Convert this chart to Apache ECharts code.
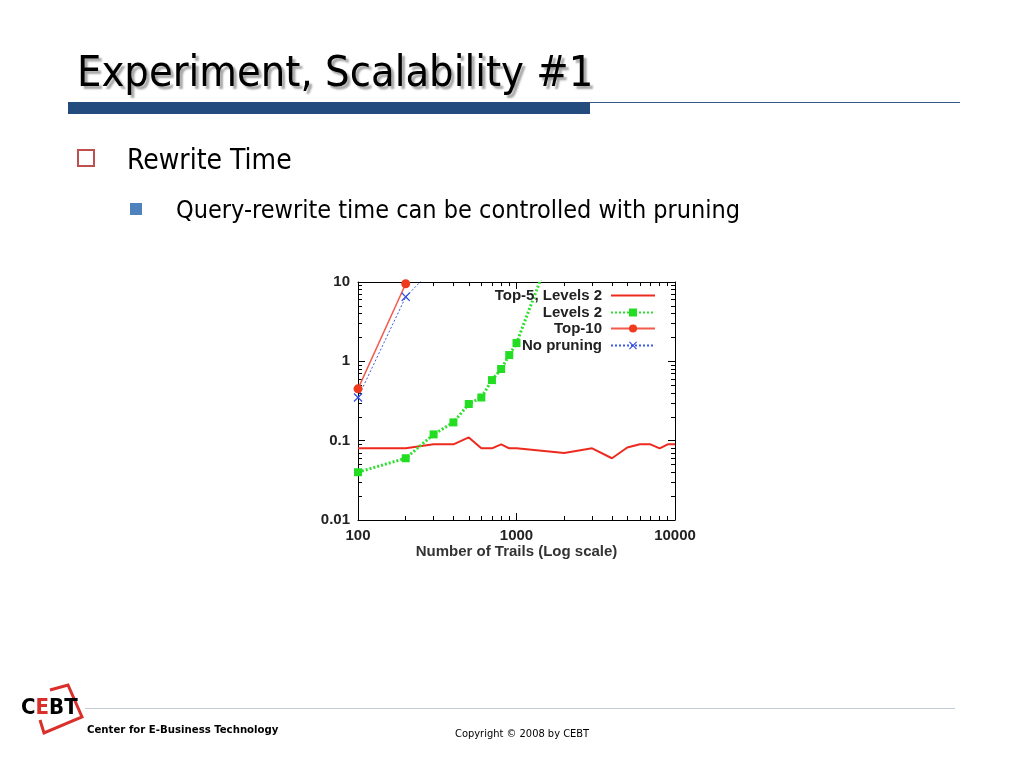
<!DOCTYPE html>
<html>
<head>
<meta charset="utf-8">
<script src="https://cdn.jsdelivr.net/npm/echarts@6/dist/echarts.min.js"></script>
<style>
html,body{margin:0;padding:0;background:#fff;}
#c{width:1024px;height:768px;}
</style>
</head>
<body>
<div id="c"></div>
<script>
// ---- data ----
const seriesNames = ['Top-5, Levels 2', 'Levels 2', 'Top-10', 'No pruning'];
const xTop5 = [100,200,300,400,500,600,700,800,900,1000,2000,3000,4000,5000,6000,7000,8000,9000,10000];
const yTop5 = [0.08,0.08,0.09,0.09,0.11,0.08,0.08,0.09,0.08,0.08,0.07,0.08,0.06,0.082,0.09,0.09,0.08,0.09,0.09];
const xLevels2 = [100,200,300,400,500,600,700,800,900,1000,2000];
const yLevels2 = [0.04,0.06,0.12,0.17,0.29,0.35,0.58,0.8,1.2,1.7,65];
const xTop10 = [100,200];
const yTop10 = [0.45,9.5];
const xNoPrune = [100,200,300];
const yNoPrune = [0.35,6.5,15];
const xMinorTicks = [200,300,400,500,600,700,800,900,2000,3000,4000,5000,6000,7000,8000,9000];
const yMinorTicks = [0.02,0.03,0.04,0.05,0.06,0.07,0.08,0.09,0.2,0.3,0.4,0.5,0.6,0.7,0.8,0.9,2,3,4,5,6,7,8,9];
const xAxisTitle = 'Number of Trails (Log scale)';

const pairs = (xs, ys) => xs.map((x, i) => [x, ys[i]]);

const chart = echarts.init(document.getElementById('c'));
const FONT = '"Liberation Sans", Arial, sans-serif';
const SLIDE = '"DejaVu Sans Condensed", "DejaVu Sans", sans-serif';
const tickFont = {fontFamily: FONT, fontWeight: 'bold', fontSize: 15, color: '#222'};

function majorAxis(pos, isX, showLabel) {
  return {
    type: 'log', logBase: 10, position: pos,
    min: isX ? 100 : 0.01, max: isX ? 10000 : 10,
    axisLine: {show: true, onZero: false, lineStyle: {color: '#000', width: 1}},
    axisTick: {show: true, inside: true, length: 7, lineStyle: {color: '#000'}},
    axisLabel: Object.assign({show: showLabel, margin: 8, formatter: v => String(v)}, tickFont),
    splitLine: {show: false}
  };
}
function minorAxis(pos, isX, vals) {
  return {
    type: 'value', position: pos,
    min: isX ? 2 : -2, max: isX ? 4 : 1,
    axisLine: {show: false, onZero: false},
    axisTick: {show: true, inside: true, length: 4, lineStyle: {color: '#000'},
      customValues: vals.map(v => Math.log10(v))},
    axisLabel: {show: false},
    splitLine: {show: false}
  };
}

const xMain = majorAxis('bottom', true, true);
xMain.name = xAxisTitle;
xMain.nameLocation = 'middle';
xMain.nameGap = 24;
xMain.nameTextStyle = {fontFamily: FONT, fontWeight: 'bold', fontSize: 15, color: '#333'};

const legendTops = [288, 305, 321, 338];
const legends = seriesNames.map((n, i) => {
  const l = {
    data: [n], right: 368, top: legendTops[i], orient: 'vertical', align: 'right', padding: 0,
    itemWidth: 44, itemHeight: 10, selectedMode: false,
    textStyle: {fontFamily: FONT, fontWeight: 'bold', fontSize: 15, color: '#222', padding: [0, 4, 0, 0]}
  };
  if (i === 0) l.itemStyle = {opacity: 0};
  return l;
});

const xShape = 'path://M0,1L1,0L5,4L9,0L10,1L6,5L10,9L9,10L5,6L1,10L0,9L4,5Z';

chart.setOption({
  animation: false,
  grid: {left: 358, top: 282, width: 317, height: 238, show: false},
  legend: legends,
  xAxis: [xMain, minorAxis('bottom', true, xMinorTicks), majorAxis('top', true, false), minorAxis('top', true, xMinorTicks)],
  yAxis: [majorAxis('left', false, true), minorAxis('left', false, yMinorTicks), majorAxis('right', false, false), minorAxis('right', false, yMinorTicks)],
  series: [
    {name: seriesNames[0], type: 'line', data: pairs(xTop5, yTop5), showSymbol: false, symbol: 'none',
      lineStyle: {color: '#ee2a1e', width: 2}, itemStyle: {color: '#ee2a1e'}},
    {name: seriesNames[1], type: 'line', data: pairs(xLevels2, yLevels2), symbol: 'rect', symbolSize: 8,
      lineStyle: {color: '#2ee02e', width: 3, type: [2, 2]}, itemStyle: {color: '#22dd22'}},
    {name: seriesNames[2], type: 'line', data: pairs(xTop10, yTop10), symbol: 'circle', symbolSize: 9,
      lineStyle: {color: '#f35a4a', width: 1.5}, itemStyle: {color: '#ee3b1e'}},
    {name: seriesNames[3], type: 'line', data: pairs(xNoPrune, yNoPrune), symbol: xShape, symbolSize: 9,
      lineStyle: {color: '#3a5ae8', width: 1, type: [2, 2]}, itemStyle: {color: '#2f4fe0'}}
  ],
  graphic: [
    {type: 'text', left: 77, top: 53, style: {text: 'Experiment, Scalability #1', fontFamily: SLIDE, fontSize: 43, fill: '#000',
      textShadowColor: 'rgba(0,0,0,0.35)', textShadowOffsetX: 3, textShadowOffsetY: 3, textShadowBlur: 2}},
    {type: 'rect', shape: {x: 68, y: 102, width: 522, height: 12}, style: {fill: '#234b7e'}},
    {type: 'line', shape: {x1: 590, y1: 102.5, x2: 960, y2: 102.5}, style: {stroke: '#34568a', lineWidth: 1}},
    {type: 'rect', shape: {x: 78, y: 150, width: 16, height: 16}, style: {fill: 'none', stroke: '#c0504d', lineWidth: 2}},
    {type: 'text', left: 127, top: 148, style: {text: 'Rewrite Time', fontFamily: SLIDE, fontSize: 28, fill: '#000'}},
    {type: 'rect', shape: {x: 130, y: 203, width: 12, height: 12}, style: {fill: '#4f81bd'}},
    {type: 'text', left: 176, top: 199, style: {text: 'Query-rewrite time can be controlled with pruning', fontFamily: SLIDE, fontSize: 25, fill: '#000'}},
    {type: 'line', shape: {x1: 85, y1: 708.5, x2: 955, y2: 708.5}, style: {stroke: '#c3cad8', lineWidth: 1}},
    {type: 'polyline', shape: {points: [[40, 720], [44, 733], [82, 717], [68, 685], [50, 690]]}, style: {stroke: '#d9302c', lineWidth: 3, fill: 'none'}},
    {type: 'text', left: 21, top: 697, style: {rich: {a: {fontFamily: SLIDE, fontWeight: 'bold', fontSize: 22, fill: '#000'}, b: {fontFamily: SLIDE, fontWeight: 'bold', fontSize: 22, fill: '#d9302c'}}, text: '{a|C}{b|E}{a|BT}'}},
    {type: 'text', left: 87, top: 725, style: {text: 'Center for E-Business Technology', fontFamily: SLIDE, fontWeight: 'bold', fontSize: 11.3, fill: '#000'}},
    {type: 'text', left: 455, top: 729, style: {text: 'Copyright \u00A9 2008 by CEBT', fontFamily: SLIDE, fontSize: 11, fill: '#000'}}
  ]
});
</script>
</body>
</html>
